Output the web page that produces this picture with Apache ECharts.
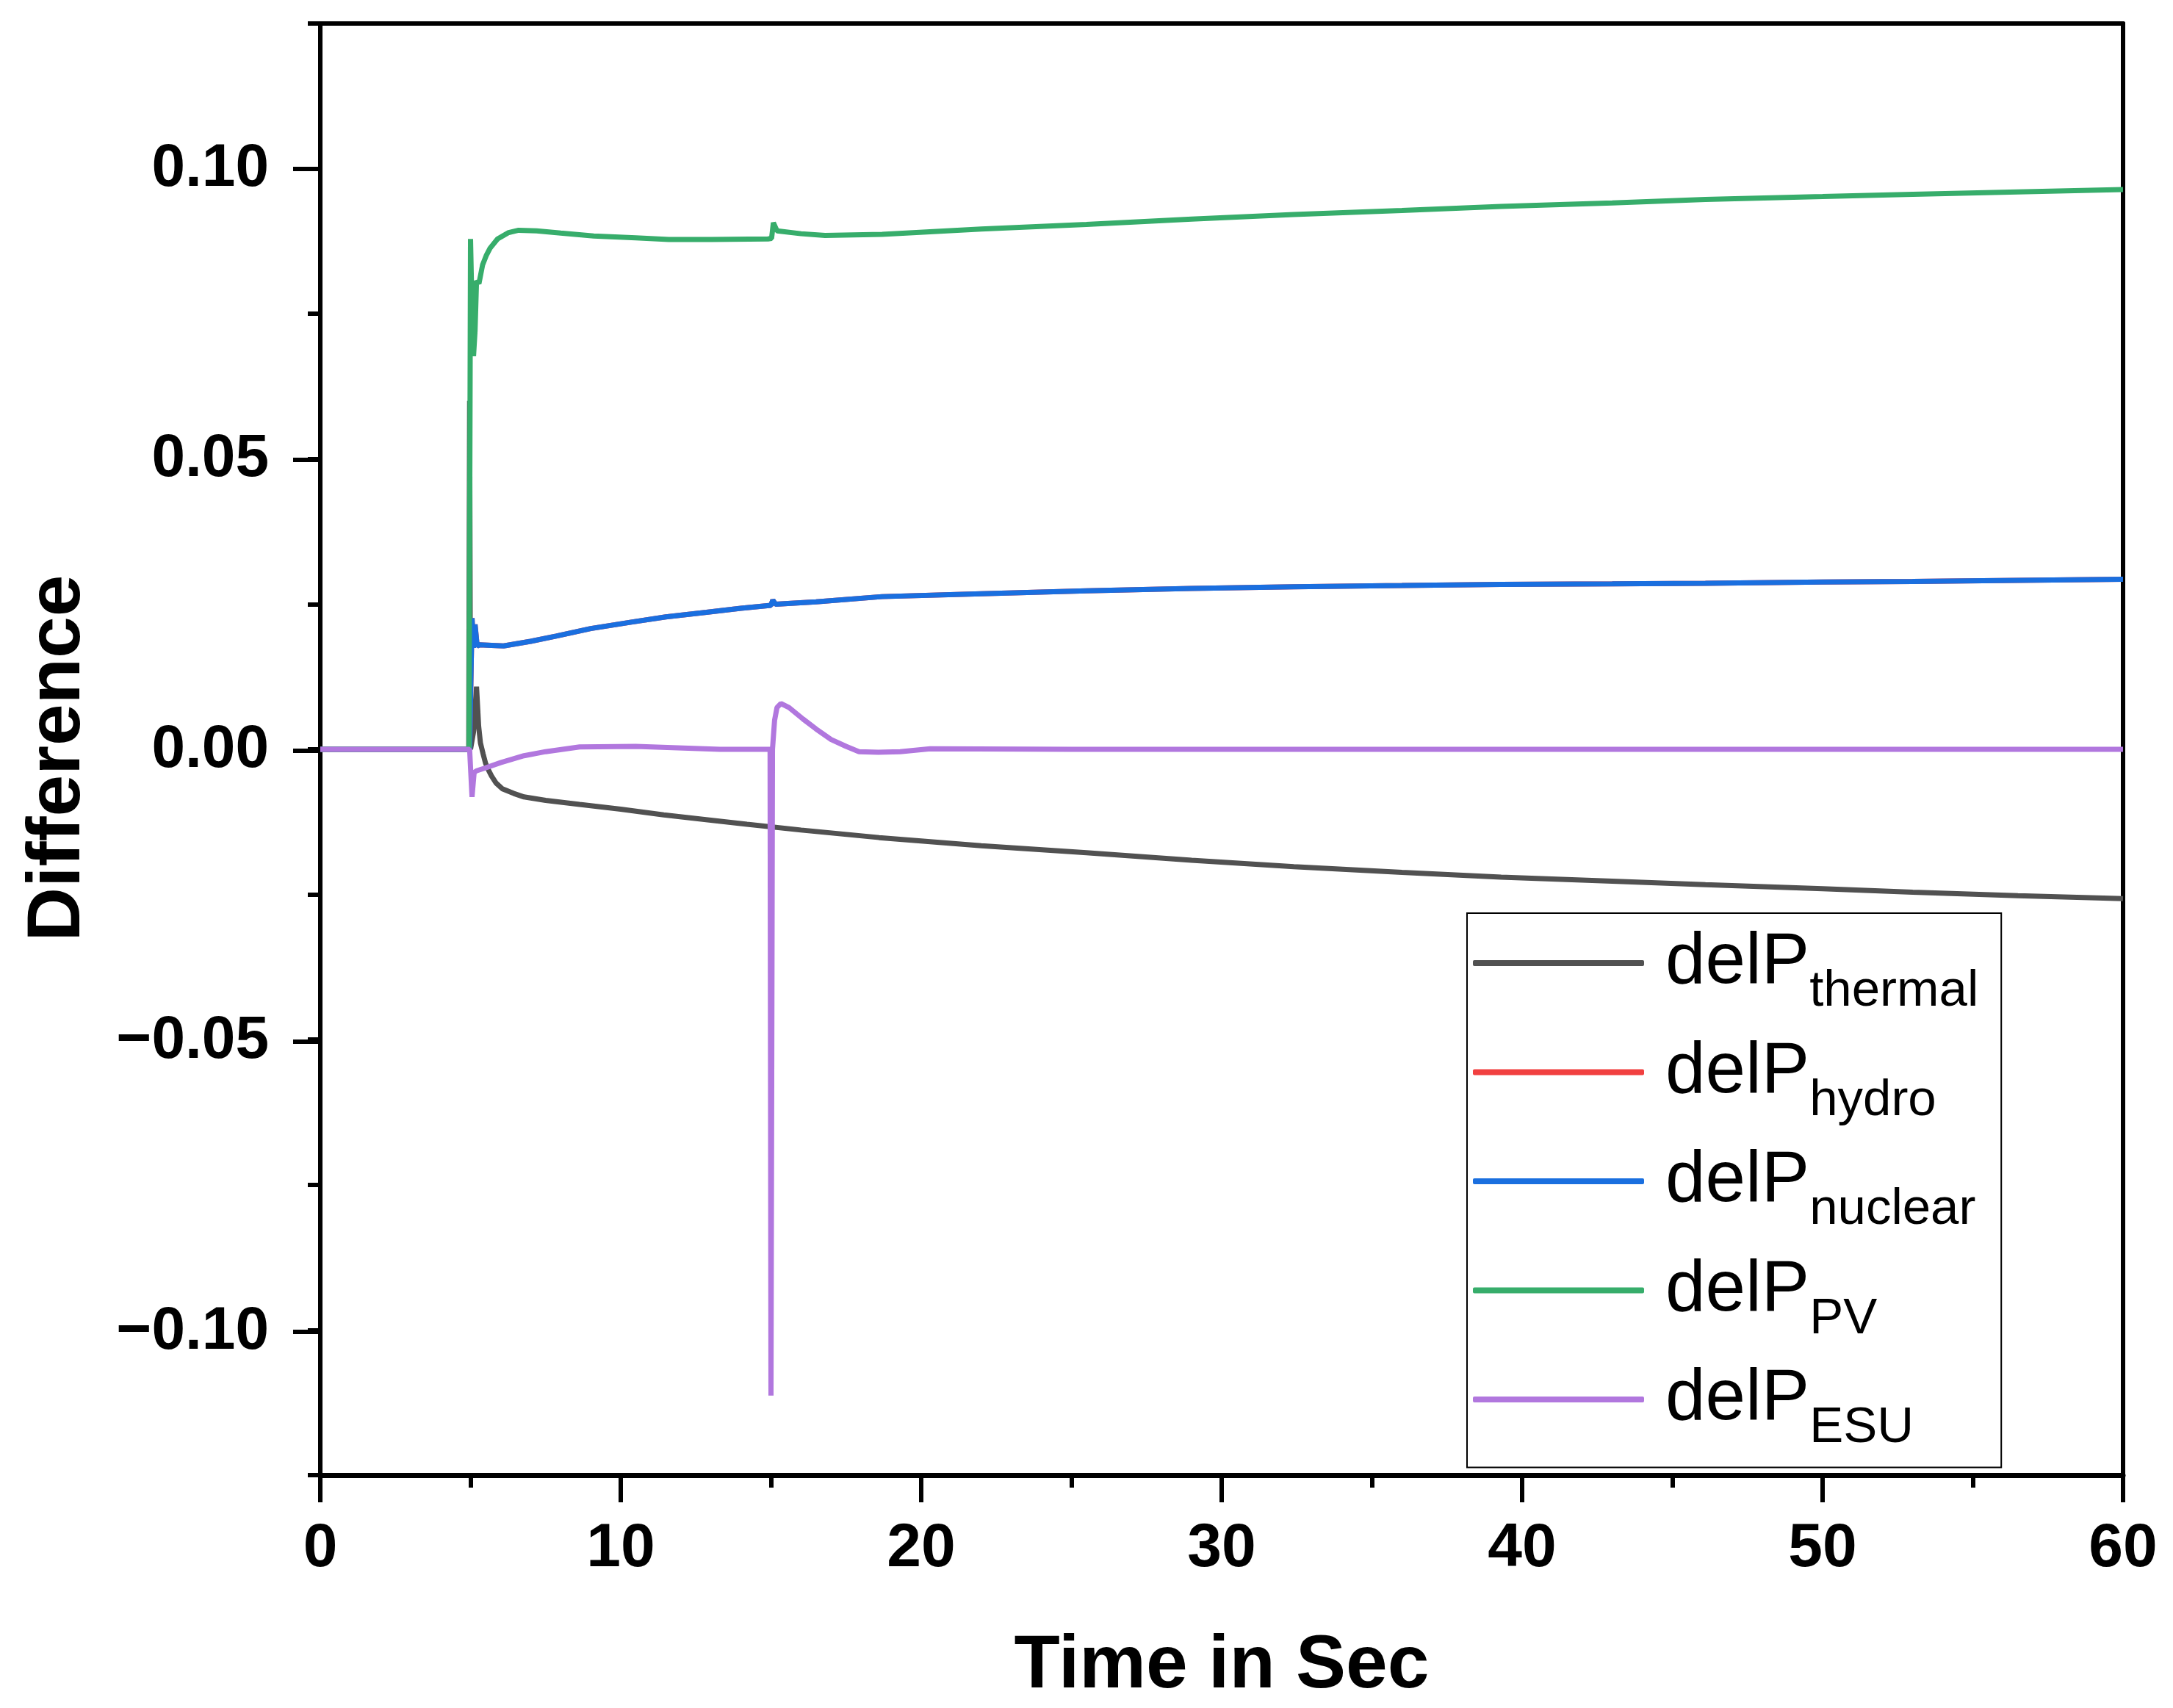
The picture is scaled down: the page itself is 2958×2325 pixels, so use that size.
<!DOCTYPE html>
<html lang="en">

<head>
  <meta charset="utf-8">
  <title>Difference vs time</title>
  <script src="https://cdn.jsdelivr.net/npm/echarts/dist/echarts.min.js"></script>
  <style>
    body {
      margin: 0;
      background: white;
      overflow: hidden;
    }

    #chart {
      width: 2958px;
      height: 2325px;
    }
  </style>
</head>

<body>
  <div id="chart"></div>

  <script>
    // --- Data (time in s, difference in p.u.).

    const thermalT = [0, 4.94, 4.97, 5.0, 5.1, 5.2, 5.27, 5.33, 5.42, 5.5, 5.6, 5.7, 5.85, 6.06, 6.44, 6.78, 7.5, 8.63, 10, 11.43, 13, 14.2, 16, 18.6, 22, 25.5, 29, 32.4, 36, 39.3, 43, 46.1, 50, 53, 56.5, 60];
    const thermalV = [0, 0, 0.060, 0, 0.003, 0.0108, 0.004, 0.0011, -0.0008, -0.0024, -0.0036, -0.0046, -0.0058, -0.0068, -0.0076, -0.0082, -0.0088, -0.0095, -0.0103, -0.0113, -0.0122, -0.0129, -0.0139, -0.0152, -0.0166, -0.0178, -0.0191, -0.0202, -0.0212, -0.0220, -0.0227, -0.0233, -0.0240, -0.0246, -0.0252, -0.0257];

    const nuclearT = [0, 4.97, 5.05, 5.1, 5.15, 5.22, 5.3, 6.1, 7, 7.85, 9, 10.35, 11.5, 12.85, 14, 15.0, 15.06, 15.15, 16.5, 18.7, 22, 25.5, 29, 32.4, 36, 39.3, 43, 46.1, 50, 53, 56.5, 60];
    const nuclearV = [0, 0, 0.0226, 0.0175, 0.0215, 0.0178, 0.0180, 0.0178, 0.0186, 0.0195, 0.0208, 0.0219, 0.0228, 0.0236, 0.0243, 0.0248, 0.0257, 0.0250, 0.0254, 0.0263, 0.0268, 0.0273, 0.0277, 0.0280, 0.0282, 0.0284, 0.0285, 0.0286, 0.0288, 0.0289, 0.0291, 0.0293];

    // Hydro never shows up in the picture, it sits right under the nuclear trace.
    const hydroT = nuclearT;
    const hydroV = nuclearV;

    const pvT = [0, 4.95, 5.0, 5.04, 5.1, 5.15, 5.2, 5.28, 5.4, 5.52, 5.65, 5.9, 6.27, 6.6, 7.2, 8, 9.1, 10.5, 11.6, 13, 14.9, 15.02, 15.08, 15.2, 16, 16.8, 18.7, 22, 25.5, 29, 32.4, 36, 39.3, 43, 46.1, 50, 53, 56.5, 60];
    const pvV = [0, 0, 0.0879, 0.078, 0.0677, 0.072, 0.0807, 0.0802, 0.0834, 0.0850, 0.0863, 0.0879, 0.0890, 0.0894, 0.0893, 0.0889, 0.0884, 0.0881, 0.0878, 0.0878, 0.0879, 0.0880, 0.0907, 0.0893, 0.0888, 0.0885, 0.0887, 0.0896, 0.0904, 0.0913, 0.0921, 0.0928, 0.0935, 0.0941, 0.0947, 0.0952, 0.0956, 0.0960, 0.0964];

    const esuT = [0, 4.97, 5.05, 5.12, 5.2, 5.5, 6, 6.78, 7.5, 8.63, 10.5, 13.3, 14.97, 15.0, 15.05, 15.12, 15.2, 15.33, 15.6, 16.07, 16.5, 17.0, 17.5, 17.93, 18.57, 19.3, 20.3, 25, 60];
    const esuV = [0, 0, -0.0082, -0.0040, -0.0037, -0.0032, -0.0023, -0.0011, -0.0004, 0.0004, 0.0005, 0.0, 0.0, -0.1113, 0.0, 0.0050, 0.0072, 0.0079, 0.0072, 0.0052, 0.0035, 0.0017, 0.0005, -0.0004, -0.0005, -0.0004, 0.0001, 0.0, 0.0];

    // Legend names (used as subscripts) and colours.
    const NAMES = ['thermal', 'hydro', 'nuclear', 'PV', 'ESU'];
    const COLORS = ['#515151', '#F14040', '#1A6FDF', '#37AD6B', '#B177DE'];

    // Axis ranges and tick steps.
    const X_MIN = 0, X_MAX = 60, X_STEP = 10;
    const Y_MIN = -0.125, Y_MAX = 0.125, Y_MINOR = 0.025;
    const Y_LABEL_MIN = -0.1, Y_LABEL_MAX = 0.1, Y_STEP = 0.05;



    // --- Helpers.



    const FONT = '"Liberation Sans", Arial, sans-serif';

    // Zips a time and a value array into [t, v] pairs.
    function pairs(t, v) {
      return t.map((x, i) => [x, v[i]]);
    }

    // Tick labels use a real minus sign.
    function yLabel(v) {
      if (Math.abs(v) < 1e-9) return '0.00';
      return (v < 0 ? '\u2212' : '') + Math.abs(v).toFixed(2);
    }

    // Plot frame in pixels, the label grid spans exactly -0.1 .. 0.1.
    const G = { left: 436, right: 68, top: 32, bottom: 314 };
    const plotH = 2325 - G.top - G.bottom;
    const shift = plotH * (Y_MAX - Y_LABEL_MAX) / (Y_MAX - Y_MIN);

    // Black axis line that stays on the frame edge.
    const lineAxis = (w) => ({ show: true, onZero: false, lineStyle: { color: '#000', width: w } });



    // --- Chart.



    const SERIES_DATA = [
      pairs(thermalT, thermalV),
      pairs(hydroT, hydroV),
      pairs(nuclearT, nuclearV),
      pairs(pvT, pvV),
      pairs(esuT, esuV)
    ];

    const option = {
      animation: false,
      backgroundColor: '#fff',
      grid: [
        { left: G.left, right: G.right, top: G.top, bottom: G.bottom },
        { left: G.left, right: G.right, top: G.top + shift, bottom: G.bottom + shift }
      ],
      xAxis: [
        {
          gridIndex: 0, type: 'value', position: 'bottom',
          min: X_MIN, max: X_MAX, interval: X_STEP,
          axisLine: lineAxis(7),
          axisTick: { show: true, inside: false, length: 37, lineStyle: { color: '#000', width: 6 } },
          minorTick: { show: true, splitNumber: 2, length: 17, lineStyle: { color: '#000', width: 6 } },
          splitLine: { show: false },
          axisLabel: { fontFamily: FONT, fontSize: 84, fontWeight: 'bold', color: '#000', margin: 59 },
          name: 'Time in Sec', nameLocation: 'middle', nameGap: 210,
          nameTextStyle: { fontFamily: FONT, fontSize: 102, fontWeight: 'bold', color: '#000' }
        },
        {
          gridIndex: 0, type: 'value', position: 'top', min: X_MIN, max: X_MAX,
          axisLine: lineAxis(6), axisTick: { show: false }, axisLabel: { show: false }, splitLine: { show: false }
        },
        {
          gridIndex: 1, type: 'value', min: X_MIN, max: X_MAX, show: false
        }
      ],
      yAxis: [
        {
          // Frame axis: short ticks every 0.025 and the axis title.
          gridIndex: 0, type: 'value', position: 'left',
          min: Y_MIN, max: Y_MAX, interval: Y_MINOR,
          axisLine: lineAxis(6),
          axisTick: { show: true, inside: false, length: 17, lineStyle: { color: '#000', width: 6 } },
          axisLabel: { show: false },
          splitLine: { show: false },
          name: 'Difference', nameLocation: 'middle', nameGap: 305, nameRotate: 90,
          nameTextStyle: { fontFamily: FONT, fontSize: 102, fontWeight: 'bold', color: '#000', padding: [0, 24, 0, 0] }
        },
        {
          gridIndex: 0, type: 'value', position: 'right', min: Y_MIN, max: Y_MAX,
          axisLine: lineAxis(6), axisTick: { show: false }, axisLabel: { show: false }, splitLine: { show: false }
        },
        {
          // Labelled axis: long ticks every 0.05.
          gridIndex: 1, type: 'value', position: 'left',
          min: Y_LABEL_MIN, max: Y_LABEL_MAX, interval: Y_STEP,
          axisLine: { show: false, onZero: false },
          axisTick: { show: true, inside: false, length: 37, lineStyle: { color: '#000', width: 6 } },
          axisLabel: { fontFamily: FONT, fontSize: 82, fontWeight: 'bold', color: '#000', margin: 70, formatter: yLabel },
          splitLine: { show: false }
        }
      ],
      legend: {
        data: NAMES,
        orient: 'vertical',
        left: 1997,
        top: 1243,
        icon: 'roundRect',
        itemWidth: 233,
        itemHeight: 8,
        itemGap: 26,
        padding: [19, 31, 19, 8],
        borderColor: '#000',
        borderWidth: 2,
        backgroundColor: '#fff',
        selectedMode: false,
        formatter: (name) => `{m|delP}{s|${name}}`,
        textStyle: {
          rich: {
            // The subscript gets a tiny box pinned to the bottom of the line,
            // so its text drops below the main baseline.
            m: { fontFamily: FONT, fontSize: 98, lineHeight: 98, color: '#000', padding: [0, 0, 0, 24] },
            s: { fontFamily: FONT, fontSize: 69, height: 20, lineHeight: 20, color: '#000', verticalAlign: 'bottom' }
          }
        }
      },
      series: NAMES.map((name, i) => ({
        name: name,
        type: 'line',
        xAxisIndex: 0,
        yAxisIndex: 0,
        data: SERIES_DATA[i],
        showSymbol: false,
        symbol: 'none',
        color: COLORS[i],
        lineStyle: { color: COLORS[i], width: 7 }
      }))
    };

    const chart = echarts.init(document.getElementById('chart'));
    chart.setOption(option);
  </script>
</body>

</html>
